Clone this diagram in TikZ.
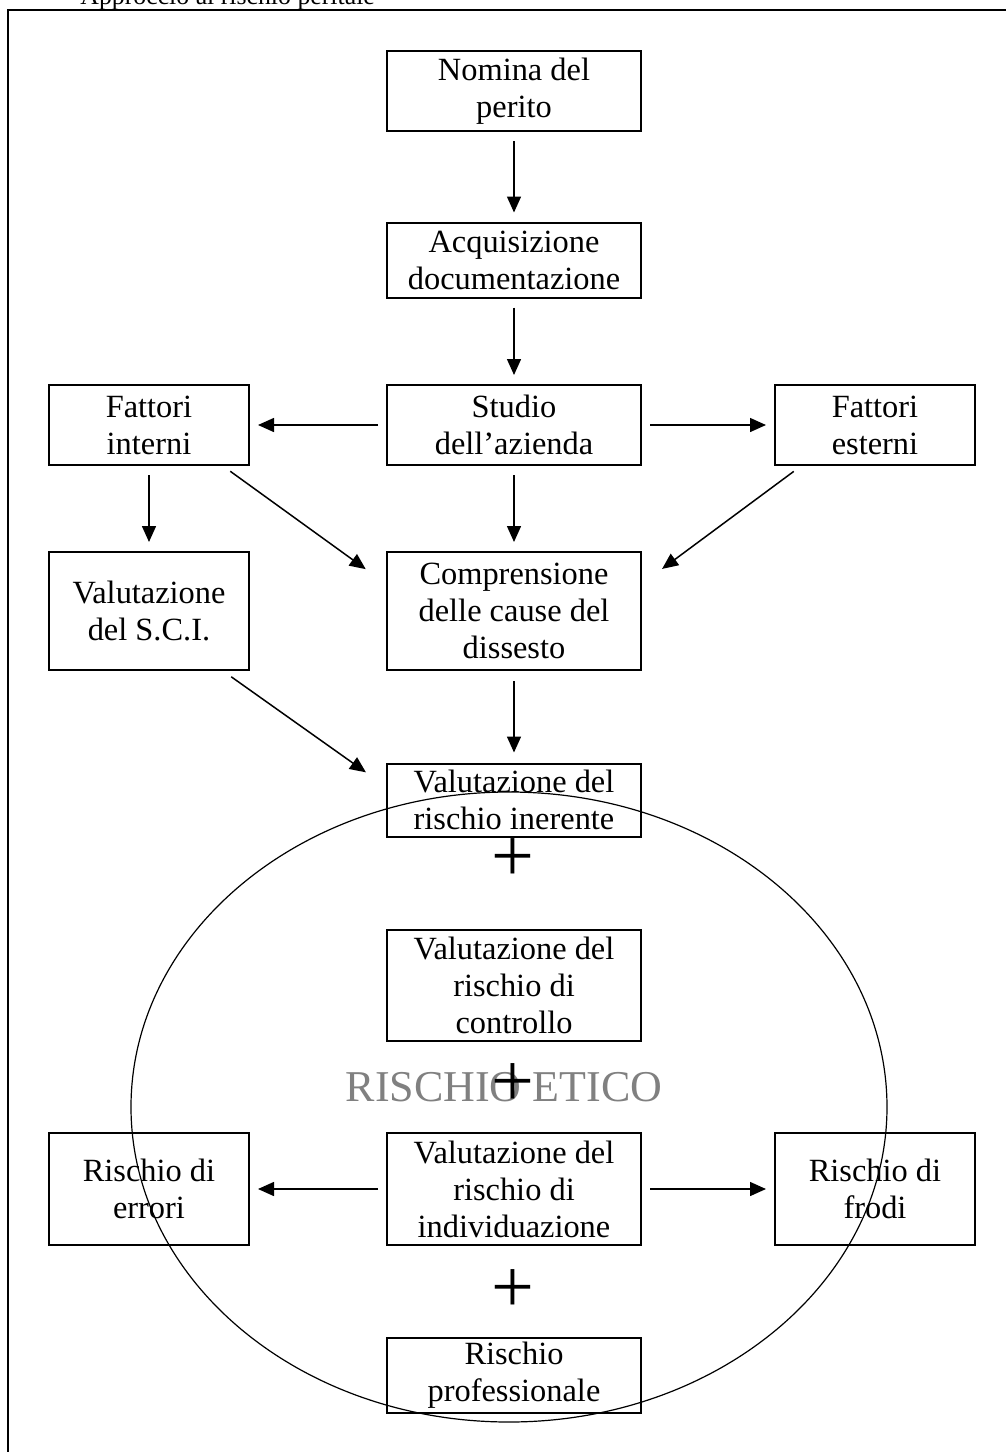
\documentclass[tikz,border=0pt]{standalone}
\usepackage{fontspec}
\setmainfont{Liberation Serif}
\usetikzlibrary{arrows.meta}
\definecolor{eticogray}{RGB}{128,128,128}
\tikzset{riskbox/.style={draw,line width=1pt,inner sep=0pt,align=center,
 minimum width=127pt,minimum height=40pt,font=\fontsize{16.2}{18.5}\selectfont},
 sidebox/.style={riskbox,minimum width=100pt},
 flow/.style={-{Triangle[length=8pt,width=7pt]},line width=0.75pt},
 plussign/.style={inner sep=0pt,font=\fontsize{38}{38}\selectfont}}

\begin{document}
\begin{tikzpicture}[x=0.5pt,y=-0.5pt]
\useasboundingbox (0,0) rectangle (1006,1452);
\draw[line width=1pt] (8,10) rectangle (1030,1480);
\node[anchor=base west,inner sep=0pt,font=\fontsize{12.9}{14}\selectfont] (titolo) at (80,4) {Approccio al rischio peritale};
\node[riskbox] (nomina) at (514,91) {Nomina del\\perito};
\node[riskbox,minimum height=37.5pt] (acquisizione) at (514,260) {Acquisizione\\documentazione};
\node[riskbox] (studio) at (514,425) {Studio\\dell’azienda};
\node[sidebox] (interni) at (149,425) {Fattori\\interni};
\node[sidebox] (esterni) at (875,425) {Fattori\\esterni};
\node[sidebox,minimum height=59pt] (sci) at (149,611) {Valutazione\\del S.C.I.};
\node[riskbox,minimum height=59pt] (cause) at (514,611) {Comprensione\\delle cause del\\dissesto};
\node[riskbox,minimum height=36.5pt] (inerente) at (514,800) {Valutazione del\\rischio inerente};
\node[plussign] (piu1) at (513,860) {+};
\node[riskbox,minimum height=55.5pt] (controllo) at (514,985) {Valutazione del\\rischio di\\controllo};
\node[inner sep=0pt,text=eticogray,font=\fontsize{22}{22}\selectfont] (etico) at (504,1087) {RISCHIO ETICO};
\node[plussign] (piu2) at (513,1085) {+};
\node[riskbox,minimum height=56pt] (individuazione) at (514,1189) {Valutazione del\\rischio di\\individuazione};
\node[sidebox,minimum height=56pt] (errori) at (149,1189) {Rischio di\\errori};
\node[sidebox,minimum height=56pt] (frodi) at (875,1189) {Rischio di\\frodi};
\node[plussign] (piu3) at (513,1291) {+};
\node[riskbox,minimum height=37.5pt] (professionale) at (514,1375) {Rischio\\professionale};
\draw[line width=0.6pt] (509,1107) ellipse [x radius=378,y radius=315];
\draw[flow,shorten <=4.5pt,shorten >=4.5pt] (nomina.south) -- (acquisizione.north);
\draw[flow,shorten <=4.5pt,shorten >=4.5pt] (acquisizione.south) -- (studio.north);
\draw[flow,shorten <=4pt,shorten >=4pt] (studio.west) -- (interni.east);
\draw[flow,shorten <=4pt,shorten >=4pt] (studio.east) -- (esterni.west);
\draw[flow,shorten <=4.5pt,shorten >=4.5pt] (interni.south) -- (sci.north);
\draw[flow,shorten <=4.5pt,shorten >=4.5pt] (studio.south) -- (cause.north);
\draw[flow,shorten <=4.5pt,shorten >=12.5pt] (interni.-29) -- (cause.168);
\draw[flow,shorten <=4.5pt,shorten >=12.5pt] (esterni.209) -- (cause.12);
\draw[flow,shorten <=5pt,shorten >=12.3pt] (sci.-39) -- (inerente.174);
\draw[flow,shorten <=5pt,shorten >=5pt] (cause.south) -- (inerente.north);
\draw[flow,shorten <=4pt,shorten >=4pt] (individuazione.west) -- (errori.east);
\draw[flow,shorten <=4pt,shorten >=4pt] (individuazione.east) -- (frodi.west);
\end{tikzpicture}
\end{document}
